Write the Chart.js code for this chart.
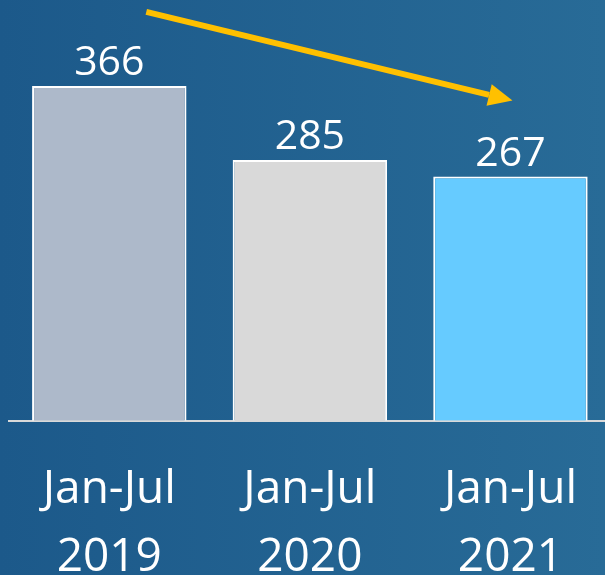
<!DOCTYPE html>
<html>
<head>
<meta charset="utf-8">
<script src="https://cdn.jsdelivr.net/npm/chart.js@4"></script>
<style>
  html, body { margin: 0; padding: 0; overflow: hidden; }
  body { width: 605px; height: 575px; background: linear-gradient(90deg, #1c598a 0%, #286b97 100%); }
  #wrap { position: absolute; left: 0; top: 0; width: 613px; height: 627px; }
</style>
</head>
<body>
<div id="wrap"><canvas id="myChart"></canvas></div>
<script>
// Data
var periods = [['Jan-Jul', '2019'], ['Jan-Jul', '2020'], ['Jan-Jul', '2021']];
var counts = [366, 285, 267];
var barColors = ['#adb9ca', '#d9d9d9', '#66cbff'];

// value labels above each bar
var valueLabels = {
  id: 'valueLabels',
  afterDatasetsDraw: function(chart) {
    var ctx = chart.ctx;
    var meta = chart.getDatasetMeta(0);
    ctx.save();
    ctx.fillStyle = '#ffffff';
    ctx.font = '41px "Open Sans"';
    ctx.textAlign = 'center';
    ctx.textBaseline = 'alphabetic';
    meta.data.forEach(function(bar, i) {
      ctx.fillText(counts[i], bar.x, bar.y - 11);
    });
    ctx.restore();
  }
};

// downward trend arrow from first to last bar
var trendArrow = {
  id: 'trendArrow',
  afterDraw: function(chart) {
    var ctx = chart.ctx;
    var x = chart.scales.x, y = chart.scales.y;
    var x0 = x.getPixelForValue(0) + 37, y0 = y.getPixelForValue(447);
    var x1 = x.getPixelForValue(2) + 2, y1 = y.getPixelForValue(350);
    var ang = Math.atan2(y1 - y0, x1 - x0);
    var head = 24, half = 11;
    var bx = x1 - head * Math.cos(ang), by = y1 - head * Math.sin(ang);
    ctx.save();
    ctx.strokeStyle = '#ffc000';
    ctx.fillStyle = '#ffc000';
    ctx.lineWidth = 6;
    ctx.beginPath();
    ctx.moveTo(x0, y0);
    ctx.lineTo(bx, by);
    ctx.stroke();
    ctx.beginPath();
    ctx.moveTo(x1, y1);
    ctx.lineTo(bx - half * Math.sin(ang), by + half * Math.cos(ang));
    ctx.lineTo(bx + half * Math.sin(ang), by - half * Math.cos(ang));
    ctx.closePath();
    ctx.fill();
    ctx.restore();
  }
};

var ctx = document.getElementById('myChart').getContext('2d');
var myChart = new Chart(ctx, {
  type: 'bar',
  data: {
    labels: periods,
    datasets: [{
      data: counts,
      backgroundColor: barColors,
      borderColor: '#ffffff',
      borderWidth: { top: 2, left: 2, right: 2, bottom: 0 },
      borderSkipped: false,
      categoryPercentage: 1,
      barPercentage: 0.77
    }]
  },
  options: {
    responsive: true,
    maintainAspectRatio: false,
    animation: false,
    layout: { padding: { left: 9, right: 0, top: 0, bottom: 0 } },
    plugins: { legend: { display: false }, tooltip: { enabled: false } },
    scales: {
      x: {
        grid: { display: false, drawTicks: false },
        border: { display: true, color: '#d9d9d9', width: 2 },
        ticks: {
          color: '#ffffff',
          font: { family: 'Open Sans', size: 46, lineHeight: 1.46 },
          padding: 36
        }
      },
      y: {
        display: false,
        min: 0,
        max: 460
      }
    }
  },
  plugins: [valueLabels, trendArrow]
});
</script>
</body>
</html>
